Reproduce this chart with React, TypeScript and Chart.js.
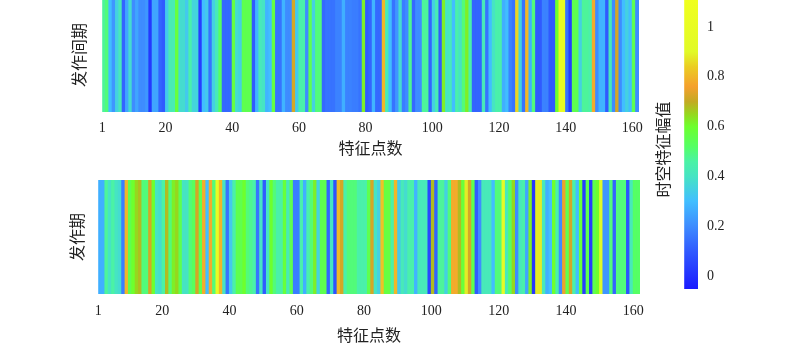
import React, { useEffect, useRef } from "react";
import { Chart, registerables } from "chart.js";

Chart.register(...registerables);

const TICKS = [1, 20, 40, 60, 80, 100, 120, 140, 160];
const CB_TICKS = [0, 0.2, 0.4, 0.6, 0.8, 1];
const X_TITLE = "特征点数";
const TOP_TITLE = "发作间期";
const BOTTOM_TITLE = "发作期";
const CB_TITLE = "时空特征幅值";
const CB_MIN = -0.052;
const CB_MAX = 1.108;

const interictal = [
  0.47, 0.5, 0.3, 0.22, 0.35, 0.42, 0.12, 0.25, 0.38, 0.2, 0.25, 0.2, 0.2, 0.22, 0.02, 0.25, 0.25, 0.12, 0.1, 0.33,
  0.43, 0.43, 0.58, 0.38, 0.38, 0.33, 0.45, 0.36, 0.36, 0.03, 0.3, 0.33, 0.15, 0.35, 0.42, 0.53, 0.13, 0.13, 0.13, 0.57,
  0.38, 0.35, 0.55, 0.55, 0.55, 0.1, 0.28, 0.42, 0.4, 0.28, 0.3, 0.57, 0.15, 0.15, 0.28, 0.2, 0.2, 0.72, 0.33, 0.45,
  0.45, 0.2, 0.55, 0.35, 0.5, 0.5, 0.13, 0.15, 0.15, 0.15, 0.18, 0.18, 0.27, 0.18, 0.18, 0.17, 0.17, 0.15, 0.62, 0.1,
  0.12, 0.28, 0.13, 0.13, 0.8, 0.43, 0.3, 0.15, 0.22, 0.38, 0.17, 0.2, 0.48, 0.13, 0.2, 0.2, 0.47, 0.47, 0.12, 0.35,
  0.43, 0.1, 0.62, 0.4, 0.42, 0.3, 0.45, 0.4, 0.5, 0.62, 0.45, 0.12, 0.12, 0.12, 0.42, 0.15, 0.3, 0.4, 0.45, 0.45,
  0.27, 0.3, 0.18, 0.15, 0.85, 0.35, 0.15, 0.8, 0.27, 0.5, 0.1, 0.1, 0.18, 0.18, 0.1, 0.1, 0.6, 1.0, 0.98, 0.15,
  0.03, 0.55, 0.55, 0.35, 0.47, 0.47, 0.45, 0.78, 0.2, 0.28, 0.28, 0.1, 0.42, 0.2, 0.72, 0.2, 0.3, 0.35, 0.3, 0.55,
  0.2,
];

const ictal = [
  0.27, 0.27, 0.47, 0.4, 0.46, 0.4, 0.38, 0.17, 0.8, 0.55, 0.6, 0.65, 0.68, 0.5, 0.5, 0.72, 0.6, 0.4, 0.38, 0.46,
  0.68, 0.5, 0.62, 0.65, 0.55, 0.4, 0.4, 0.5, 0.53, 0.72, 0.55, 0.78, 0.3, 0.78, 0.5, 0.98, 0.8, 0.4, 0.15, 0.33,
  0.45, 0.55, 0.55, 0.6, 0.5, 0.48, 0.45, 0.15, 0.4, 0.1, 0.4, 0.6, 0.5, 0.45, 0.45, 0.58, 0.42, 0.55, 0.17, 0.17,
  0.45, 0.27, 0.45, 0.5, 0.62, 0.35, 0.55, 0.55, 0.12, 0.4, 0.08, 0.8, 0.72, 0.45, 0.5, 0.5, 0.5, 0.45, 0.45, 0.45,
  0.55, 0.72, 0.4, 0.35, 0.82, 0.57, 0.57, 0.45, 0.8, 0.33, 0.42, 0.38, 0.45, 0.45, 0.28, 0.42, 0.42, 0.42, 0.05, 0.68,
  0.12, 0.47, 0.47, 0.35, 0.5, 0.78, 0.78, 0.68, 0.58, 0.88, 0.72, 0.55, 0.1, 0.2, 0.42, 0.42, 0.42, 0.3, 0.5, 0.5,
  0.95, 0.42, 0.52, 0.65, 0.2, 0.42, 0.45, 0.25, 0.62, 0.02, 0.88, 0.88, 0.42, 0.27, 0.3, 0.6, 0.45, 0.2, 0.75, 0.55,
  0.72, 0.45, 0.3, 0.58, 0.03, 0.55, 0.03, 0.55, 0.6, 0.9, 0.22, 0.22, 0.5, 0.12, 0.5, 0.5, 0.5, 0.08, 0.42, 0.52,
  0.52,
];

// value, r, g, b
const COLORMAP: number[][] = [
  [-0.052, 26, 26, 255],
  [0.1, 48, 90, 255],
  [0.2, 62, 140, 255],
  [0.3, 65, 190, 255],
  [0.4, 70, 228, 195],
  [0.46, 75, 242, 165],
  [0.52, 85, 255, 100],
  [0.6, 110, 255, 45],
  [0.65, 150, 215, 30],
  [0.7, 195, 170, 35],
  [0.76, 245, 160, 45],
  [0.84, 235, 205, 35],
  [0.9, 225, 250, 40],
  [1.108, 240, 255, 30],
];

function colorOf(v: number): string {
  for (let i = 1; i < COLORMAP.length; i++) {
    const a = COLORMAP[i - 1];
    const b = COLORMAP[i];
    if (v <= b[0]) {
      const t = Math.max(0, (v - a[0]) / (b[0] - a[0]));
      const m = (k: number) => Math.round(a[k] + (b[k] - a[k]) * t);
      return `rgb(${m(1)},${m(2)},${m(3)})`;
    }
  }
  const l = COLORMAP[COLORMAP.length - 1];
  return `rgb(${l[1]},${l[2]},${l[3]})`;
}

const FONT = "'Liberation Serif', 'Noto Sans CJK SC', serif";
const INK = "#222222";

type StripProps = {
  values: number[];
  yTitle: string;
  top: number;
  height: number;
  pad: { left: number; right: number; top: number; bottom: number };
  titleGap: number;
  tickPad: number;
  xTitleTop: number;
};

function Strip({ values, yTitle, top, height, pad, titleGap, tickPad, xTitleTop }: StripProps) {
  const ref = useRef<HTMLCanvasElement>(null);
  useEffect(() => {
    const chart = new Chart(ref.current!, {
      type: "bar",
      data: {
        datasets: [
          {
            data: values.map((v, i) => ({ x: i + 1.5, y: 1, v })),
            backgroundColor: values.map(colorOf),
            borderWidth: 0,
            barPercentage: 1,
            categoryPercentage: 1,
            inflateAmount: 0.5,
          } as any,
        ],
      },
      options: {
        animation: false,
        responsive: false,
        layout: { padding: pad },
        plugins: {
          legend: { display: false },
          tooltip: { enabled: false },
        },
        scales: {
          x: {
            type: "linear",
            offset: false,
            min: 1,
            max: 162,
            grid: { display: false, drawTicks: false },
            border: { display: false },
            afterBuildTicks: (s: any) => {
              s.ticks = TICKS.map((value) => ({ value }));
            },
            afterFit: (s: any) => {
              s.paddingLeft = 0;
              s.paddingRight = 0;
            },
            ticks: {
              color: INK,
              font: { family: FONT, size: 14 },
              padding: tickPad,
              maxRotation: 0,
              autoSkip: false,
              callback: (v: any) => String(v),
            },
            title: {
              display: true,
              text: X_TITLE,
              color: INK,
              font: { family: FONT, size: 16 },
              padding: { top: xTitleTop, bottom: 0 },
            },
          },
          y: {
            min: 0,
            max: 1,
            grid: { display: false, drawTicks: false },
            border: { display: false },
            ticks: { display: false },
            title: {
              display: true,
              text: yTitle,
              color: INK,
              font: { family: FONT, size: 16 },
              padding: { top: 0, bottom: titleGap },
            },
            afterFit: (s: any) => {
              s.paddingTop = 0;
              s.paddingBottom = 0;
            },
          },
        },
      } as any,
    });
    return () => chart.destroy();
  }, []);
  return (
    <canvas
      ref={ref}
      width={794}
      height={height}
      style={{ position: "absolute", left: 0, top, width: 794, height }}
    />
  );
}

function ColorBar() {
  const ref = useRef<HTMLCanvasElement>(null);
  useEffect(() => {
    const chart = new Chart(ref.current!, {
      type: "bar",
      data: {
        labels: ["c"],
        datasets: [
          {
            data: [[CB_MIN, CB_MAX]],
            barPercentage: 1,
            categoryPercentage: 1,
            borderWidth: 0,
            backgroundColor: (ctx: any) => {
              const { chart: c } = ctx;
              const a = c.chartArea;
              if (!a) return "#000";
              const y = c.scales.y;
              const g = c.ctx.createLinearGradient(0, y.getPixelForValue(CB_MIN), 0, y.getPixelForValue(CB_MAX));
              COLORMAP.forEach((s) => {
                g.addColorStop((s[0] - CB_MIN) / (CB_MAX - CB_MIN), `rgb(${s[1]},${s[2]},${s[3]})`);
              });
              return g;
            },
          } as any,
        ],
      },
      options: {
        animation: false,
        responsive: false,
        layout: { padding: { left: 5, right: 0, top: 0, bottom: 0 } },
        plugins: {
          legend: { display: false },
          tooltip: { enabled: false },
          title: {
            display: true,
            text: CB_TITLE,
            position: "left",
            color: INK,
            font: { family: FONT, size: 16, weight: "normal" },
            padding: { top: 0, bottom: 10 },
          },
        },
        scales: {
          x: {
            grid: { display: false, drawTicks: false },
            border: { display: false },
            ticks: { display: false },
            afterFit: (s: any) => {
              s.height = 10;
              s.paddingLeft = 0;
              s.paddingRight = 0;
            },
          },
          y: {
            position: "right",
            min: CB_MIN,
            max: CB_MAX,
            grid: { display: false, drawTicks: false },
            border: { display: false },
            afterBuildTicks: (s: any) => {
              s.ticks = CB_TICKS.map((value) => ({ value }));
            },
            afterFit: (s: any) => {
              s.width = 96;
              s.paddingTop = 0;
              s.paddingBottom = 0;
            },
            ticks: {
              color: INK,
              font: { family: FONT, size: 14 },
              padding: 9,
              callback: (v: any) => String(v),
            },
          },
        },
      } as any,
    });
    return () => chart.destroy();
  }, []);
  return (
    <canvas
      ref={ref}
      width={144}
      height={299}
      style={{ position: "absolute", left: 650, top: 0, width: 144, height: 299 }}
    />
  );
}

export default function App() {
  return (
    <div style={{ position: "absolute", left: 0, top: 0, width: 794, height: 346, background: "#fff", overflow: "hidden" }}>
      <Strip values={interictal} yTitle={TOP_TITLE} top={-2} height={161} pad={{ left: 71, right: 155, top: 0, bottom: 0 }} titleGap={12} tickPad={8} xTitleTop={-5} />
      <Strip values={ictal} yTitle={BOTTOM_TITLE} top={180} height={166} pad={{ left: 69, right: 154, top: 0, bottom: 0 }} titleGap={10} tickPad={9} xTitleTop={-2} />
      <ColorBar />
    </div>
  );
}
